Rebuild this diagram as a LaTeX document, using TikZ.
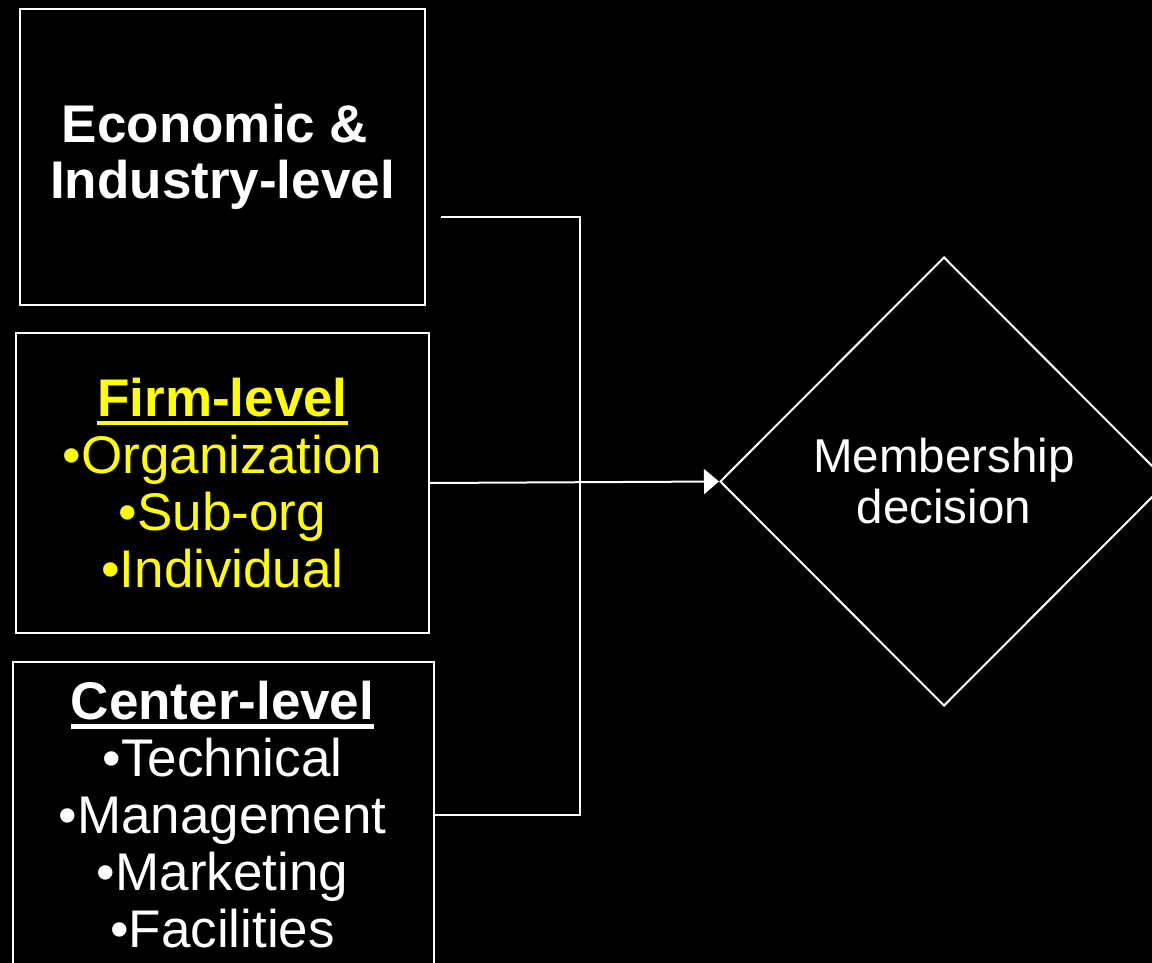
\documentclass[tikz,border=0pt]{standalone}
\usepackage{fontspec}
\setmainfont{Liberation Sans}
\usetikzlibrary{shapes.geometric,arrows.meta}
\newcommand\myul[1]{\setbox0\hbox{#1}\rlap{\rule[-9pt]{\wd0}{4.5pt}}\box0}
\definecolor{yel}{RGB}{255,255,0}
\begin{document}
\begin{tikzpicture}[x=1pt,y=-1pt,
  box/.style={draw=white, line width=2pt, inner sep=0pt, align=center},
  conn/.style={draw=white, line width=2pt},
  big/.style={font=\fontsize{53}{57}\selectfont},
  tip/.style={-{Triangle[length=15pt,width=25pt]}}]
\fill[black] (0,0) rectangle (1152,963);
\useasboundingbox (0,0) rectangle (1152,963);

\node[box, big, text=white, font=\bfseries\fontsize{53}{56}\selectfont,
      minimum width=405pt, minimum height=296pt] (econ) at (222.5,157)
  {\mbox{Economic \&\ }\\Industry-level};

\node[box, big, text=yel, minimum width=413pt, minimum height=300pt] (firm) at (222.5,483)
  {{\bfseries\myul{Firm-level}}\\•Organization\\•Sub-org\\•Individual};

\node[box, minimum width=421pt, minimum height=330pt, anchor=north west] (center) at (12,661) {};
\node[big, text=white, align=center, inner sep=0pt, anchor=north] (ctext) at (222.5,681)
  {{\bfseries\myul{Center-level}}\\•Technical\\•Management\\•Marketing\\•Facilities};

\node[draw=white, line width=2pt, diamond, inner sep=0pt, minimum width=448pt, minimum height=449pt,
      text=white, align=center, font=\fontsize{47.5}{51}\selectfont] (dec) at (944,481.5)
  {Membership\\decision};

\coordinate (s1) at (441,217);
\coordinate (bt) at (580,217);
\coordinate (bb) at (580,815);
\draw[conn] (s1) -- (bt) -- (bb) -- (bb -| center.east);
\draw[conn, tip] (firm.east) -- (dec.west);
\end{tikzpicture}
\end{document}
